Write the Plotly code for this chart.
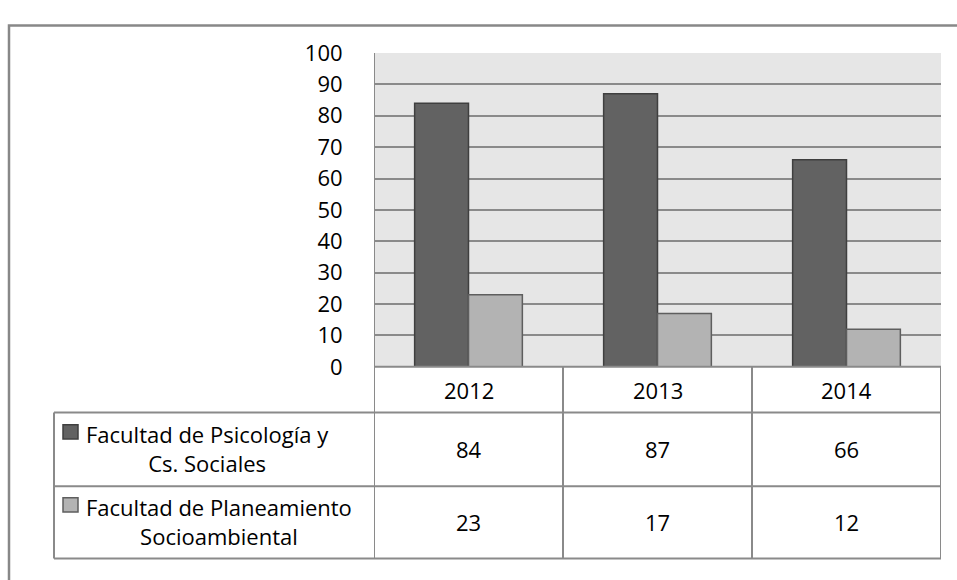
import plotly.graph_objects as go

years = ["2012", "2013", "2014"]
series_names = ["Facultad de Psicología y<br>Cs. Sociales",
                "Facultad de Planeamiento<br>Socioambiental"]
psicologia = [84, 87, 66]
planeamiento = [23, 17, 12]
y_ticks = [0, 10, 20, 30, 40, 50, 60, 70, 80, 90, 100]

W, H = 957, 580
FONT = "Open Sans"
dark, dark_line = "#626262", "#3f3f3f"
light, light_line = "#b3b3b3", "#5e5e5e"
grid = "#8a8a8a"


def px(x):
    return x / W


def py(y):
    return (H - y) / H


fig = go.Figure()
fig.add_trace(go.Bar(x=years, y=psicologia, name="Psicología",
                     marker=dict(color=dark, line=dict(color=dark_line, width=1.5))))
fig.add_trace(go.Bar(x=years, y=planeamiento, name="Planeamiento",
                     marker=dict(color=light, line=dict(color=light_line, width=1.5))))

shapes = []
# outer border
shapes.append(dict(type="rect", xref="paper", yref="paper", x0=px(9), x1=px(1000),
                   y0=py(620), y1=py(10), line=dict(color="#888888", width=2.5)))
# table horizontal lines
shapes.append(dict(type="line", xref="x", yref="paper", x0=-0.5, x1=2.5,
                   y0=py(370), y1=py(370), line=dict(color=grid, width=2)))
for yy in [418, 496, 572]:
    shapes.append(dict(type="line", xref="paper", yref="paper", x0=px(54), x1=px(941),
                       y0=py(yy), y1=py(yy), line=dict(color=grid, width=2)))
# verticals
shapes.append(dict(type="line", xref="paper", yref="paper", x0=px(54), x1=px(54),
                   y0=py(418), y1=py(572), line=dict(color=grid, width=2)))
shapes.append(dict(type="line", xref="x", yref="paper", x0=-0.5, x1=-0.5,
                   y0=py(39), y1=py(572), line=dict(color=grid, width=2)))
for xb in [0.5, 1.5, 2.5]:
    shapes.append(dict(type="line", xref="x", yref="paper", x0=xb, x1=xb,
                       y0=py(370), y1=py(572), line=dict(color=grid, width=2)))
# legend keys
for top, (fc, lc) in zip([431, 508], [(dark, dark_line), (light, light_line)]):
    shapes.append(dict(type="rect", xref="paper", yref="paper", x0=px(63), x1=px(78),
                       y0=py(top + 15), y1=py(top), fillcolor=fc,
                       line=dict(color=lc, width=1.5)))

tfont = dict(size=22, color="black", family=FONT)
annotations = []
for i, yr in enumerate(years):
    annotations.append(dict(x=i, xref="x", y=py(394), yref="paper", text=yr,
                            xanchor="center", yanchor="middle",
                            showarrow=False, font=tfont))
for vals, ycen in [(psicologia, 457), (planeamiento, 534)]:
    for i, v in enumerate(vals):
        annotations.append(dict(x=i, xref="x", y=py(ycen), yref="paper", text=str(v),
                                xanchor="center", yanchor="middle",
                                showarrow=False, font=tfont))
for name, ycen in zip(series_names, [456, 533]):
    annotations.append(dict(x=px(84), xref="paper", xanchor="left", yanchor="middle",
                            y=py(ycen), yref="paper",
                            text=name, align="center", showarrow=False, font=tfont))

fig.update_layout(
    width=W, height=H,
    margin=dict(l=0, r=0, t=0, b=0),
    paper_bgcolor="white",
    plot_bgcolor="#e6e6e6",
    barmode="group", bargap=0.43, bargroupgap=0,
    showlegend=False,
    font=tfont,
    xaxis=dict(type="category", domain=[px(374), px(941)], range=[-0.5, 2.5],
               showticklabels=False, showgrid=False, zeroline=False,
               showline=False, fixedrange=True),
    yaxis=dict(domain=[py(370), py(39)], range=[0, 100], tickvals=y_ticks,
               showgrid=True, gridcolor=grid, gridwidth=1.5, zeroline=False,
               showline=False, ticks="outside", ticklen=0, ticklabelstandoff=26,
               tickfont=tfont, fixedrange=True),
    shapes=shapes,
    annotations=annotations,
)

fig.write_html("out.html", config={"displayModeBar": False},
               post_script="document.body.style.margin='0';")
